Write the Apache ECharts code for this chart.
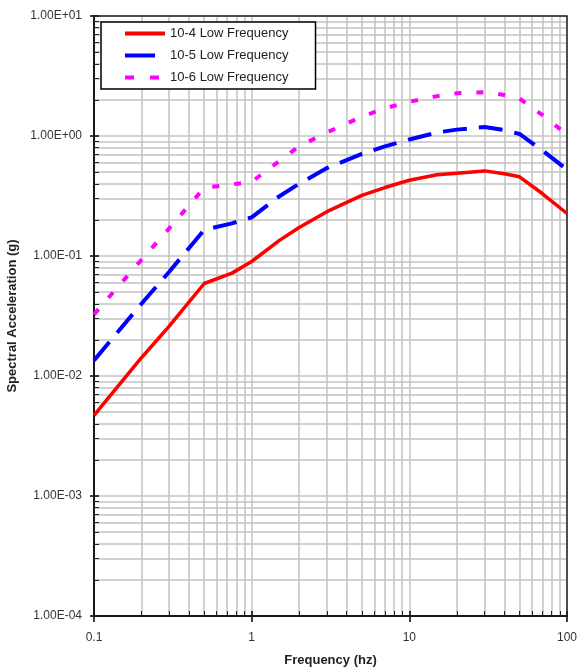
<!DOCTYPE html>
<html>
<head>
<meta charset="utf-8">
<script src="https://cdn.jsdelivr.net/npm/echarts@6/dist/echarts.min.js"></script>
<style>
html,body{margin:0;padding:0;background:#fff;}
#chart{width:577px;height:668px;}
</style>
</head>
<body>
<div id="chart"></div>
<script>
// Frequencies (Hz)
var frequencies = [0.1, 0.2, 0.3, 0.5, 0.75, 1, 1.5, 2, 3, 5, 7, 10, 15, 20, 30, 40, 50, 70, 100];
// Spectral acceleration (g)
var lowFreq1e4 = [0.0047, 0.0142, 0.026, 0.059, 0.072, 0.09, 0.135, 0.173, 0.234, 0.32, 0.372, 0.428, 0.475, 0.49, 0.512, 0.484, 0.457, 0.33, 0.226];
var lowFreq1e5 = [0.0135, 0.040, 0.074, 0.165, 0.187, 0.21, 0.315, 0.40, 0.54, 0.71, 0.82, 0.935, 1.07, 1.13, 1.19, 1.12, 1.04, 0.757, 0.526];
var lowFreq1e6 = [0.0326, 0.093, 0.17, 0.37, 0.395, 0.415, 0.62, 0.82, 1.07, 1.45, 1.70, 1.93, 2.15, 2.27, 2.32, 2.2, 2.05, 1.49, 1.03];
var seriesNames = ['10-4 Low Frequency', '10-5 Low Frequency', '10-6 Low Frequency'];
var xTickLabels = ['0.1', '1', '10', '100'];
var yTickLabels = ['1.00E-04', '1.00E-03', '1.00E-02', '1.00E-01', '1.00E+00', '1.00E+01'];

function pairs(xs, ys) {
  return xs.map(function (x, i) { return [x, ys[i]]; });
}

var chart = echarts.init(document.getElementById('chart'), null, {renderer: 'canvas'});
var font = 'Liberation Sans, Arial, sans-serif';
var gridColor = '#c4c4c4';

function overlayAxis(pos, min, max) {
  return {
    type: 'log', logBase: 10, min: min, max: max, position: pos,
    axisLine: {show: false},
    axisTick: {show: true, inside: true, length: 5, lineStyle: {color: '#000', width: 1.5}},
    minorTick: {show: true, splitNumber: 9, length: 5, lineStyle: {color: '#222', width: 1}},
    axisLabel: {show: false},
    splitLine: {show: false},
    minorSplitLine: {show: false}
  };
}

chart.setOption({
  animation: false,
  backgroundColor: '#fff',
  textStyle: {fontFamily: font},
  grid: {left: 94, right: 10, top: 16, bottom: 52, outerBoundsMode: 'none', containLabel: false,
         show: true, borderColor: '#222', borderWidth: 1.5, z: 3},
  legend: {
    left: 101, top: 22, orient: 'vertical',
    padding: [5, 27, 5, 22],
    itemWidth: 40, itemHeight: 14, itemGap: 9,
    borderColor: '#000', borderWidth: 1.5, backgroundColor: '#fff',
    itemStyle: {opacity: 0, borderWidth: 0},
    textStyle: {fontFamily: font, fontSize: 13, color: '#222'},
    data: [
      {name: seriesNames[0], lineStyle: {width: 4, color: '#ff0000'}},
      {name: seriesNames[1], lineStyle: {width: 4, color: '#0000ff', type: [30, 12]}},
      {name: seriesNames[2], lineStyle: {width: 4, color: '#ff00ff', type: [9, 16]}}
    ]
  },
  xAxis: [{
    type: 'log', logBase: 10, min: 0.1, max: 100, position: 'bottom',
    name: 'Frequency (hz)', nameLocation: 'middle', nameGap: 38,
    nameTextStyle: {fontFamily: font, fontSize: 13, fontWeight: 'bold', color: '#222'},
    axisLine: {show: true, onZero: false, lineStyle: {color: '#000', width: 2}},
    axisTick: {show: true, length: 6, lineStyle: {color: '#000', width: 1.5}},
    minorTick: {show: false, splitNumber: 9},
    axisLabel: {
      fontFamily: font, fontSize: 12, color: '#333', margin: 16,
      formatter: function (v) { var k = Math.round(Math.log10(v)) + 1; return xTickLabels[k] || ''; }
    },
    splitLine: {show: true, lineStyle: {color: gridColor, width: 1.5}},
    minorSplitLine: {show: true, lineStyle: {color: gridColor, width: 1.5}}
  }, overlayAxis('bottom', 0.1, 100)],
  yAxis: [{
    type: 'log', logBase: 10, min: 0.0001, max: 10, position: 'left',
    name: 'Spectral Acceleration (g)', nameLocation: 'middle', nameGap: 65,
    nameTextStyle: {fontFamily: font, fontSize: 13, fontWeight: 'bold', color: '#222'},
    axisLine: {show: true, onZero: false, lineStyle: {color: '#000', width: 2}},
    axisTick: {show: true, length: 4, lineStyle: {color: '#000', width: 1.5}},
    minorTick: {show: false, splitNumber: 9},
    axisLabel: {
      fontFamily: font, fontSize: 12, color: '#333', margin: 12,
      formatter: function (v) { var k = Math.round(Math.log10(v)) + 4; return yTickLabels[k] || ''; }
    },
    splitLine: {show: true, lineStyle: {color: gridColor, width: 1.5}},
    minorSplitLine: {show: true, lineStyle: {color: gridColor, width: 1.5}}
  }, overlayAxis('left', 0.0001, 10)],
  series: [
    {
      name: seriesNames[0], type: 'line', data: pairs(frequencies, lowFreq1e4),
      xAxisIndex: 0, yAxisIndex: 0,
      showSymbol: false, symbol: 'none', z: 5,
      lineStyle: {color: '#ff0000', width: 3.5, type: 'solid'},
      itemStyle: {color: '#ff0000'}
    },
    {
      name: seriesNames[1], type: 'line', data: pairs(frequencies, lowFreq1e5),
      xAxisIndex: 0, yAxisIndex: 0,
      showSymbol: false, symbol: 'none', z: 5,
      lineStyle: {color: '#0000ff', width: 4, type: [24, 12]},
      itemStyle: {color: '#0000ff'}
    },
    {
      name: seriesNames[2], type: 'line', data: pairs(frequencies, lowFreq1e6),
      xAxisIndex: 0, yAxisIndex: 0,
      showSymbol: false, symbol: 'none', z: 5,
      lineStyle: {color: '#ff00ff', width: 4, type: [7, 15]},
      itemStyle: {color: '#ff00ff'}
    }
  ]
});
</script>
</body>
</html>
